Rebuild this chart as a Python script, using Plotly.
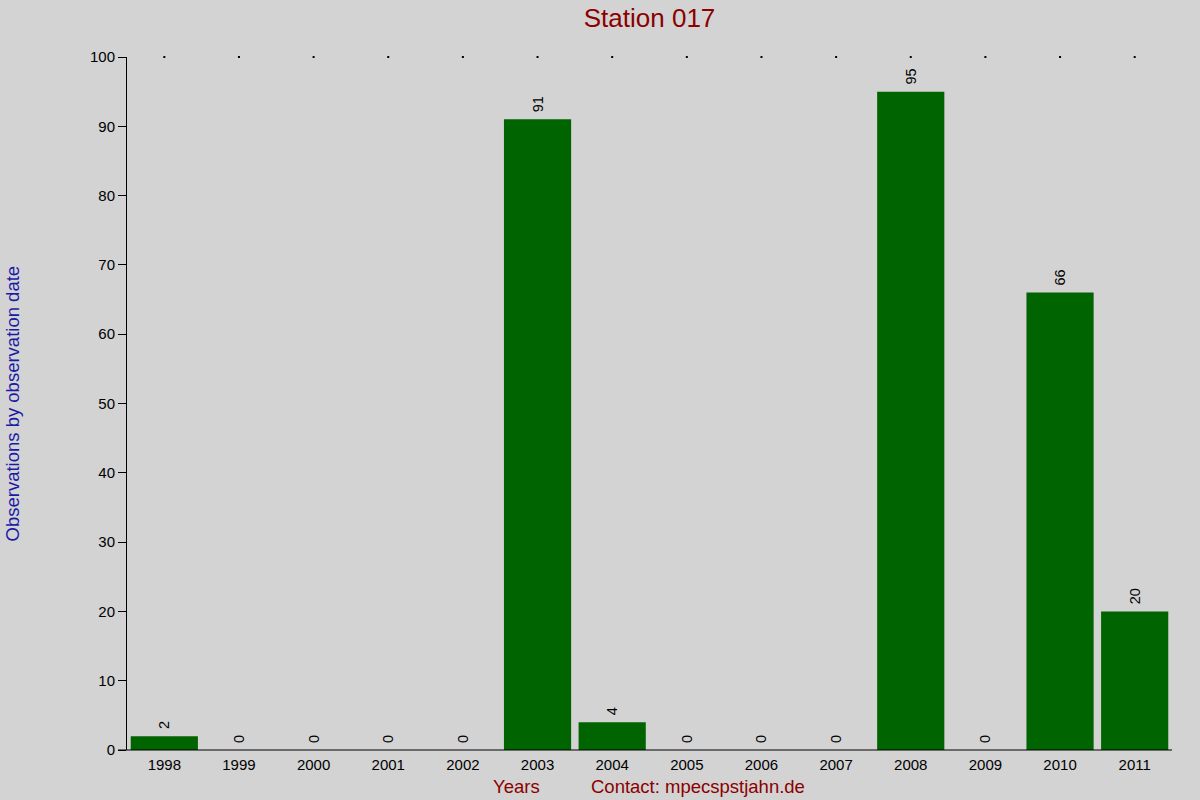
import plotly.graph_objects as go

# Observations per year for the station
years = ['1998', '1999', '2000', '2001', '2002', '2003', '2004',
         '2005', '2006', '2007', '2008', '2009', '2010', '2011']
observations = [2, 0, 0, 0, 0, 91, 4, 0, 0, 0, 95, 0, 66, 20]
y_ticks = [0, 10, 20, 30, 40, 50, 60, 70, 80, 90, 100]
y_max = 100

font_family = 'Liberation Sans, Arial, sans-serif'

fig = go.Figure()

# Bars with rotated value labels on top (leading nbsp gives a small gap)
fig.add_trace(go.Bar(
    x=years,
    y=observations,
    marker=dict(color='#006400', line=dict(width=0)),
    text=['\u00a0' + str(v) for v in observations],
    textposition='outside',
    textangle=-90,
    textfont=dict(family=font_family, size=14.5, color='black'),
    cliponaxis=False,
    hoverinfo='x+y',
))

# small grid dots along the top of the chart
fig.add_trace(go.Scatter(
    x=years,
    y=[y_max] * len(years),
    mode='markers',
    marker=dict(color='black', size=2, symbol='square'),
    cliponaxis=False,
    hoverinfo='skip',
))

fig.update_layout(
    width=1200,
    height=800,
    paper_bgcolor='#D3D3D3',
    plot_bgcolor='#D3D3D3',
    showlegend=False,
    bargap=0.1,
    margin=dict(l=127, r=28, t=57, b=50),
    font=dict(family=font_family, size=15, color='black'),
    title=dict(
        text='Station 017',
        x=0.5413, xanchor='center',
        y=0.9775, yanchor='middle',
        font=dict(family=font_family, size=26, color='#8B0000'),
    ),
)

fig.update_xaxes(
    type='category',
    range=[-0.5, len(years) - 0.5],
    showgrid=False,
    showline=False,
    ticks='',
    ticklabelstandoff=4,
    tickfont=dict(family=font_family, size=15, color='black'),
    zeroline=False,
)

fig.update_yaxes(
    range=[0, y_max],
    tickvals=y_ticks,
    showgrid=False,
    showline=True,
    linecolor='black',
    linewidth=1,
    ticks='outside',
    ticklen=8,
    tickcolor='black',
    tickfont=dict(family=font_family, size=15, color='black'),
    zeroline=False,
)

# x axis line, running a little past the y axis
fig.add_shape(
    type='line', xref='paper', yref='paper',
    x0=-0.0086, x1=1, y0=0, y1=0,
    line=dict(color='black', width=1),
)

# Y axis title
fig.add_annotation(
    text='Observations by observation date', xref='paper', yref='paper',
    x=0, y=0.5, xshift=-115, xanchor='center', yanchor='middle',
    textangle=-90, showarrow=False,
    font=dict(family=font_family, size=18.5, color='#1a1aa8'),
)

# Bottom captions
fig.add_annotation(
    text='Years', xref='paper', yref='paper',
    x=0.3732, y=-0.052, xanchor='center', yanchor='middle',
    showarrow=False,
    font=dict(family=font_family, size=18.5, color='#8B0000'),
)
fig.add_annotation(
    text='Contact: mpecspstjahn.de', xref='paper', yref='paper',
    x=0.5465, y=-0.052, xanchor='center', yanchor='middle',
    showarrow=False,
    font=dict(family=font_family, size=18.5, color='#8B0000'),
)

fig.write_html('out.html', config={'displayModeBar': False},
               post_script="document.body.style.margin='0';")
